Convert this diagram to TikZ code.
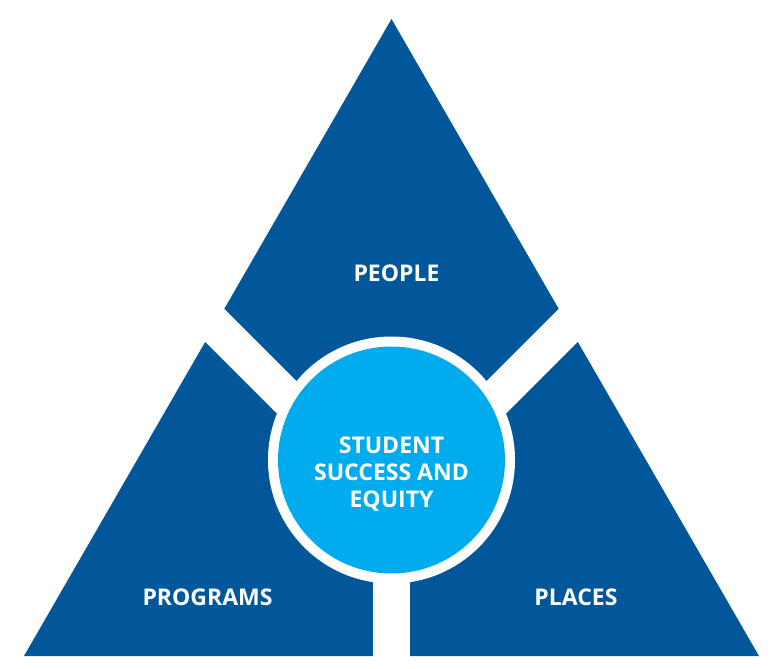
\documentclass[tikz,border=0pt]{standalone}
\usepackage{fontspec}
\newfontfamily\lblfont{Open Sans}
\definecolor{darkblue}{RGB}{2,87,155}
\definecolor{lightblue}{RGB}{0,172,238}
\begin{document}
\begin{tikzpicture}[x=1pt,y=-1pt,
  lbl/.style={text=white,font=\lblfont\bfseries\fontsize{23}{27}\selectfont,inner sep=0pt,anchor=base},
  gap/.style={draw=white,line width=36.8pt}]
\useasboundingbox (0,0) rectangle (779,669);
% outer triangle
\fill[darkblue] (391.5,19) -- (759,656) -- (24,656) -- cycle;
% white gaps
\coordinate (gc) at (391.5,502.2);
\coordinate (gl) at (150,260.7);
\coordinate (gr) at (633,260.7);
\coordinate (gb) at (391.3,690);
\begin{scope}
\clip (0,0) rectangle (779,669);
\draw[gap] (gc) -- (gl);
\draw[gap] (gc) -- (gr);
\draw[gap] (391.3,460) -- (gb);
\end{scope}
% central circle
\fill[white] (391.5,460) circle[radius=123.5];
\fill[lightblue] (391.5,460) circle[radius=113.5];
% labels
\node[lbl] (people) at (396.5,281) {PEOPLE};
\node[lbl] (programs) at (207.5,605.5) {PROGRAMS};
\node[lbl] (places) at (576,605.5) {PLACES};
\node[lbl] (c1) at (391.5,453.3) {STUDENT};
\node[lbl] (c2) at (391.5,480.3) {SUCCESS AND};
\node[lbl] (c3) at (391.5,507.3) {EQUITY};
\end{tikzpicture}
\end{document}
